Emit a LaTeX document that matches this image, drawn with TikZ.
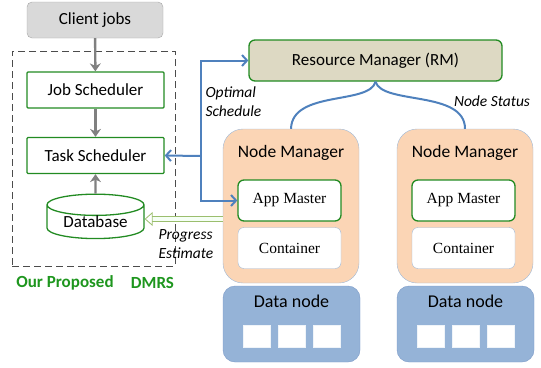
\documentclass[tikz,border=0pt]{standalone}
\usepackage{fontspec}
\setmainfont{Carlito}
\newfontfamily\timesfont{Liberation Serif}
\usetikzlibrary{arrows.meta, shapes.geometric}

\definecolor{boxgreen}{RGB}{34,139,34}
\definecolor{dmrsgreen}{RGB}{30,150,30}
\definecolor{clientgray}{RGB}{217,217,217}
\definecolor{rmtan}{RGB}{221,217,195}
\definecolor{nmpeach}{RGB}{251,213,181}
\definecolor{nmedge}{RGB}{160,185,215}
\definecolor{dnblue}{RGB}{149,179,215}
\definecolor{dnedge}{RGB}{125,155,200}
\definecolor{linkblue}{RGB}{79,129,189}
\definecolor{progedge}{RGB}{155,190,110}

\tikzset{
	greenbox/.style = {draw=boxgreen, line width=1.3pt, fill=white, rounded corners=1pt,
		minimum width=137, minimum height=36, font=\fontsize{17}{20}\selectfont},
	smallbox/.style = {rounded corners=6pt, fill=white, minimum width=103, minimum height=41,
		font=\timesfont\fontsize{15.5}{18}\selectfont},
	nmbox/.style = {draw=nmedge, fill=nmpeach, rounded corners=20pt, minimum width=136, minimum height=154},
	dnbox/.style = {draw=dnedge, fill=dnblue, rounded corners=12pt, minimum width=137, minimum height=76},
	block/.style = {draw=white!85!dnblue, fill=white, minimum width=27, minimum height=22},
	label/.style = {font=\itshape\fontsize{15.5}{19}\selectfont, align=left},
	grayarrow/.style = {draw=black!50, line width=2.4pt, -{Stealth[length=8pt, width=11pt]}},
	sched/.style = {draw=linkblue, line width=2pt, -{Straight Barb[length=5pt, width=11pt]}}
}

\begin{document}
\begin{tikzpicture}[x = 1pt, y = -1pt]
	\useasboundingbox (0, 0) rectangle (541, 367);

	% Nodes
	\node[draw=black!70, dash pattern=on 7pt off 4pt, line width=0.9pt, minimum width=163, minimum height=215] (dmrs) at (93.5, 158.5) {};
	\node[draw=black!35, fill=clientgray, rounded corners=5pt, minimum width=136, minimum height=36,
		font=\fontsize{17}{20}\selectfont] (client) at (95, 20) {Client jobs};
	\node[greenbox] (jobs) at (95.5, 90) {Job Scheduler};
	\node[greenbox] (task) at (95.5, 155.5) {Task Scheduler};
	\node[cylinder, shape border rotate=90, aspect=0.33, draw=boxgreen, line width=1.3pt, fill=white,
		minimum width=97, minimum height=35, inner sep=0pt, font=\fontsize{17}{20}\selectfont] (db) at (95.5, 222) {Database};
	\node[text=dmrsgreen, font=\bfseries\fontsize{17}{20}\selectfont] (ours) at (65, 283) {Our Proposed};
	\node[text=dmrsgreen, font=\bfseries\fontsize{17}{20}\selectfont] (dmrsname) at (152.5, 283) {DMRS};

	\node[draw=boxgreen, line width=1.3pt, fill=rmtan, rounded corners=6pt, minimum width=253, minimum height=41,
		font=\fontsize{17}{20}\selectfont] (rm) at (375.5, 60.5) {Resource Manager (RM)};

	\node[nmbox] (nm1) at (291, 206) {};
	\node[nmbox] (nm2) at (465, 206) {};
	\node[font=\fontsize{17.5}{20}\selectfont] (nm1name) at (291, 153) {Node Manager};
	\node[font=\fontsize{17.5}{20}\selectfont] (nm2name) at (465, 153) {Node Manager};
	\node[smallbox, draw=boxgreen, line width=1.3pt] (am1) at (289.5, 200.5) {App Master};
	\node[smallbox, draw=nmedge] (ct1) at (289.5, 248) {Container};
	\node[smallbox, draw=boxgreen, line width=1.3pt] (am2) at (463.5, 200.5) {App Master};
	\node[smallbox, draw=nmedge] (ct2) at (463.5, 248) {Container};

	\node[dnbox] (dn1) at (291.5, 324) {};
	\node[dnbox] (dn2) at (465.5, 324) {};
	\node[font=\fontsize{18}{21}\selectfont] (dn1name) at (291.5, 301) {Data node};
	\node[font=\fontsize{18}{21}\selectfont] (dn2name) at (465.5, 301) {Data node};
	\foreach \x in {0, 35.5, 70} {
		\node[block] at (256.5 + \x, 336) {};
		\node[block] at (430.5 + \x, 336) {};
	}

	\coordinate (bus) at (201, 156);

	% Edges
	\draw[grayarrow] (client) -- (jobs);
	\draw[grayarrow] (jobs) -- (task);
	\draw[grayarrow] (db.north) -- (task);

	\draw[sched] (bus) |- (rm.west);
	\draw[sched] (bus) -- (task.east);
	\draw[sched] (bus) |- (am1.west);

	\draw[draw=linkblue, line width=2pt] (rm.south) .. controls (370, 105) and (292, 90) .. (nm1.north);
	\draw[draw=linkblue, line width=2pt] (rm.south) .. controls (382, 105) and (465, 90) .. (nm2.north);

	\draw[draw=progedge, double=green!4, double distance=3.5pt, line width=0.8pt,
		-{Triangle[open, length=8pt, width=14pt]}] (nm1.west |- 0, 219) -- (db.east |- 0, 219);

	% Labels
	\node[label, anchor=west] (optimal) at (202, 102) {Optimal\\Schedule};
	\node[label] (status) at (492, 101) {Node Status};
	\node[label, anchor=west] (progress) at (155, 244) {Progress\\Estimate};
\end{tikzpicture}
\end{document}
